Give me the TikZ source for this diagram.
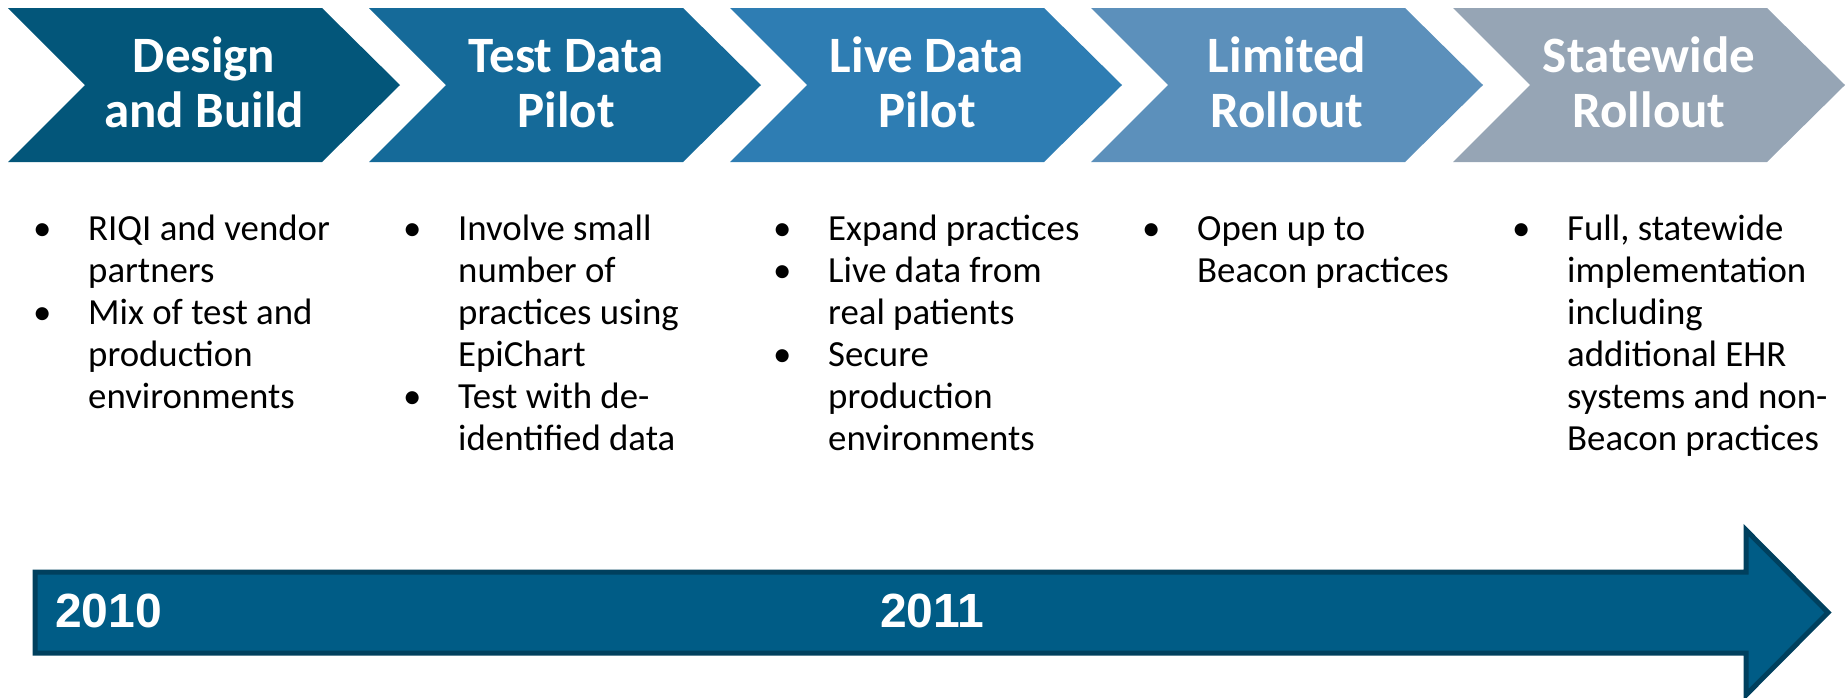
\documentclass[tikz,border=0pt]{standalone}
\usepackage{fontspec}
\setmainfont{Carlito}
\newfontfamily\yearfont{Liberation Sans}
\definecolor{cA}{HTML}{03567A}
\definecolor{cB}{HTML}{156A99}
\definecolor{cC}{HTML}{2E7DB3}
\definecolor{cD}{HTML}{5C90BB}
\definecolor{cE}{HTML}{96A5B5}
\definecolor{arrowfill}{HTML}{005C86}
\definecolor{arrowline}{HTML}{00405E}
\newcommand{\bul}{\leavevmode\llap{\makebox[55pt][l]{\textbullet}}}
\tikzset{
  title/.style={anchor=base, inner sep=0pt, text=white, font=\bfseries\fontsize{51}{55}\selectfont},
  bullets/.style={anchor=base west, inner sep=0pt, text=black},
  year/.style={anchor=base west, inner sep=0pt, text=white, font=\yearfont\bfseries\fontsize{48}{54}\selectfont}
}
\newcommand{\chev}[2]{\fill[#2] (#1,8) -- (#1+314,8) -- (#1+392,85) -- (#1+314,162) -- (#1,162) -- (#1+77,85) -- cycle;}
\newcommand{\ttl}[2]{\parbox[t]{300pt}{\centering #1\\#2}}
\newcommand{\blist}[1]{\parbox[t]{340pt}{\raggedright\fontsize{36.8}{42}\selectfont #1}}
\begin{document}
\begin{tikzpicture}[x=1pt,y=-1pt]
\useasboundingbox (0,0) rectangle (1848,697);
\chev{8}{cA}
\chev{369}{cB}
\chev{730}{cC}
\chev{1091}{cD}
\chev{1453}{cE}
\node[title] (t1) at (204,72) {\ttl{Design}{and Build}};
\node[title] (t2) at (566,72) {\ttl{Test Data}{Pilot}};
\node[title] (t3) at (927,72) {\ttl{Live Data}{Pilot}};
\node[title] (t4) at (1287,72) {\ttl{Limited}{Rollout}};
\node[title] (t5) at (1649,72) {\ttl{Statewide}{Rollout}};
\node[bullets] (b1) at (88,240) {\blist{\bul RIQI and vendor\\partners\\\bul Mix of test and\\production\\environments}};
\node[bullets] (b2) at (458,240) {\blist{\bul Involve small\\number of\\practices using\\EpiChart\\\bul Test with de-\\identified data}};
\node[bullets] (b3) at (828,240) {\blist{\bul Expand practices\\\bul Live data from\\real patients\\\bul Secure\\production\\environments}};
\node[bullets] (b4) at (1197,240) {\blist{\bul Open up to\\Beacon practices}};
\node[bullets] (b5) at (1567,240) {\blist{\bul Full, statewide\\implementation\\including\\additional EHR\\systems and non-\\Beacon practices}};
\draw[fill=arrowfill, draw=arrowline, line width=5pt, line join=miter]
  (35,572) -- (1746,572) -- (1746,530) -- (1828,612.5) -- (1746,695) -- (1746,653) -- (35,653) -- cycle;
\node[year] (y1) at (55,627) {2010};
\node[year] (y2) at (880,627) {2011};
\end{tikzpicture}
\end{document}
